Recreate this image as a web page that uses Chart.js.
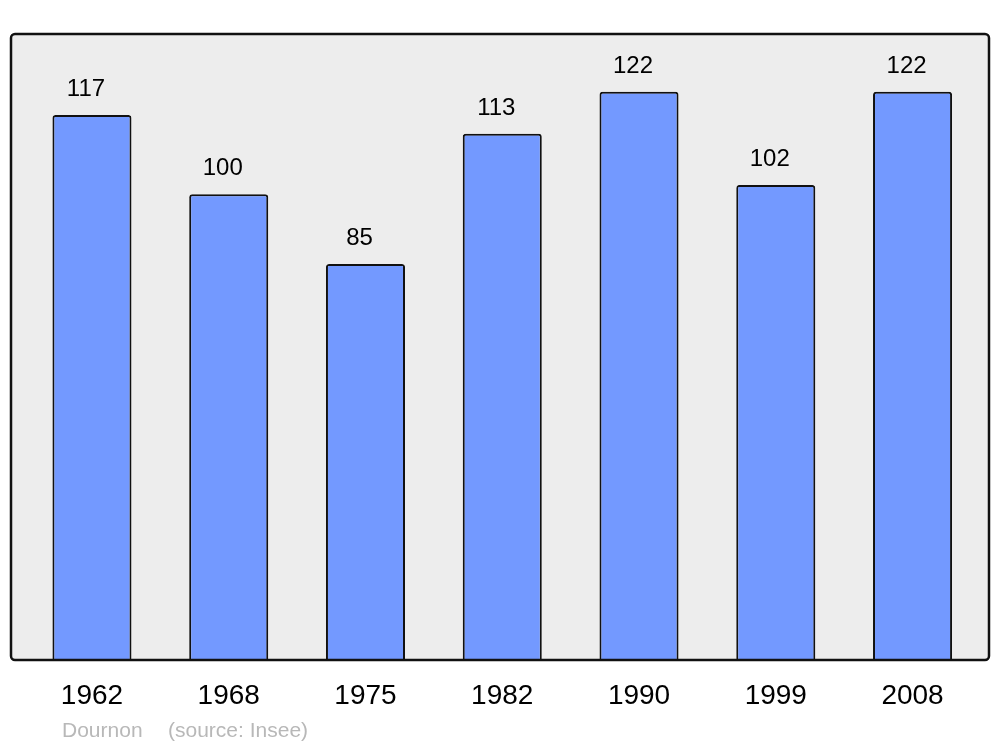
<!DOCTYPE html>
<html><head><meta charset="utf-8">
<script src="https://cdn.jsdelivr.net/npm/chart.js@4.4.1/dist/chart.umd.min.js"></script>
<style>html,body{margin:0;padding:0;background:#fff}#wrap{width:1000px;height:747px}</style>
</head><body><div id="wrap"><canvas id="c" width="1000" height="747"></canvas></div>
<script>
const years = ["1962","1968","1975","1982","1990","1999","2008"];
const population = [117,100,85,113,122,102,122];
const sourceLabel = "Dournon";
const sourceNote = "(source: Insee)";
const FONT = "'Liberation Sans', Arial, sans-serif";

function rr(ctx,x,y,w,h,r){ctx.beginPath();ctx.moveTo(x+r,y);ctx.lineTo(x+w-r,y);ctx.arcTo(x+w,y,x+w,y+r,r);ctx.lineTo(x+w,y+h-r);ctx.arcTo(x+w,y+h,x+w-r,y+h,r);ctx.lineTo(x+r,y+h);ctx.arcTo(x,y+h,x,y+h-r,r);ctx.lineTo(x,y+r);ctx.arcTo(x,y,x+r,y,r);ctx.closePath();}

const framePlugin = {
  id:'frame',
  beforeDraw(chart){const {ctx,chartArea:a}=chart;ctx.save();rr(ctx,a.left,a.top,a.right-a.left,a.bottom-a.top,4);ctx.fillStyle='#ededed';ctx.fill();ctx.restore();},
  afterDatasetsDraw(chart){const {ctx,chartArea:a}=chart;ctx.save();rr(ctx,a.left,a.top,a.right-a.left,a.bottom-a.top,4);ctx.lineWidth=2.5;ctx.strokeStyle='#111';ctx.stroke();
    const meta=chart.getDatasetMeta(0);ctx.fillStyle='#000';ctx.font='24px '+FONT;ctx.textAlign='center';ctx.textBaseline='alphabetic';
    meta.data.forEach((el,i)=>{ctx.fillText(String(population[i]),el.x-6,el.y-19);});
    ctx.fillStyle='#b8b8b8';ctx.font='21px '+FONT;ctx.textAlign='left';
    ctx.fillText(sourceLabel,62,737);ctx.fillText(sourceNote,168,737);
    ctx.restore();}
};

new Chart(document.getElementById('c'),{
  type:'bar',
  data:{datasets:[{data:population.map((v,i)=>({x:i,y:v})),backgroundColor:'#7399ff',borderColor:'#111',borderWidth:2,borderRadius:{topLeft:3,topRight:3},borderSkipped:'bottom',barPercentage:0.578,categoryPercentage:1}]},
  options:{
    responsive:false,animation:false,
    layout:{padding:{left:11,right:11,top:34,bottom:37}},
    plugins:{legend:{display:false},tooltip:{enabled:false},title:{display:false}},
    scales:{
      x:{type:'linear',offset:false,min:-0.592,max:6.559,grid:{display:false,offset:false},border:{display:false},
        afterBuildTicks(s){s.ticks=years.map((y,i)=>({value:i}));},
        afterFit(s){s.height=50;},
        ticks:{autoSkip:false,maxRotation:0,padding:11,color:'#000',font:{family:FONT,size:28},callback:(v)=>years[v]}},
      y:{display:false,min:0,max:134.4}
    }
  },
  plugins:[framePlugin]
});
</script></body></html>
